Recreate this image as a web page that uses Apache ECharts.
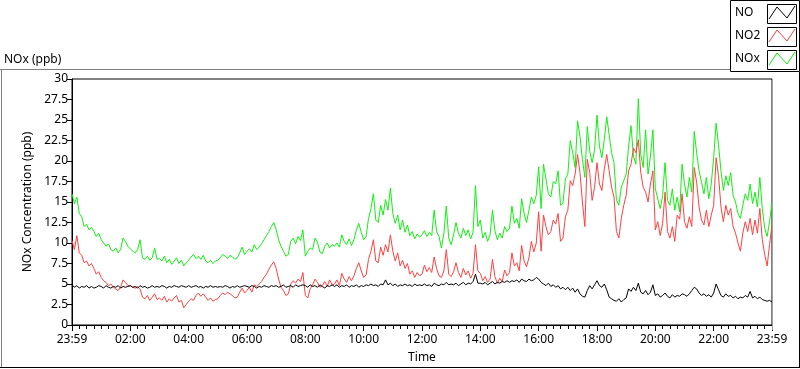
<!DOCTYPE html>
<html>
<head>
<meta charset="utf-8">
<script src="https://cdn.jsdelivr.net/npm/echarts@6/dist/echarts.min.js"></script>
<style>
html,body{margin:0;padding:0;background:#fff;}
#chart{width:800px;height:369px;}
</style>
</head>
<body>
<div id="chart"></div>
<script>
// Samples every 5 minutes from 23:59 (index 0) to 23:59 next day (index 288)
var sampleStepMinutes = 5;

var xTickLabels = ["23:59","02:00","04:00","06:00","08:00","10:00","12:00","14:00","16:00","18:00","20:00","22:00","23:59"];
var yTickLabels = ["0","2.5","5","7.5","10","12.5","15","17.5","20","22.5","25","27.5","30"];
var seriesNames = ["NO","NO2","NOx"];

var noxValues = [
16.0,14.8,15.6,13.6,13.2,12.0,12.3,11.6,11.9,11.4,10.8,11.2,
10.4,10.0,9.6,9.9,9.2,9.0,9.4,8.8,9.2,10.6,10.2,9.6,
9.3,9.0,8.8,9.2,10.4,8.2,8.0,8.4,7.9,8.2,9.4,8.0,
8.1,7.8,8.4,7.6,8.0,7.4,7.8,8.2,7.5,7.9,7.2,7.6,
7.9,8.3,8.6,8.1,8.4,8.0,8.5,7.8,7.6,7.9,7.5,7.8,
7.9,8.2,8.6,8.4,8.1,8.5,8.3,8.0,8.2,8.8,9.5,8.6,
9.0,9.3,8.9,9.8,9.2,9.5,9.9,10.4,10.9,11.4,12.0,12.5,
11.6,10.4,9.6,9.0,8.4,8.6,10.2,10.6,9.9,10.8,10.3,11.6,
8.4,9.0,9.4,9.2,10.6,10.1,8.9,8.7,9.6,10.0,9.4,9.8,
9.6,10.0,9.5,11.0,10.2,9.8,10.5,9.7,10.4,11.6,12.4,11.3,
10.4,10.8,13.0,14.2,16.0,12.8,12.5,14.6,13.4,15.3,14.0,16.7,
13.6,12.4,13.4,11.6,12.8,11.3,12.2,10.9,11.4,10.5,11.1,10.7,
11.0,11.5,10.8,11.3,10.9,14.0,11.4,10.8,9.4,11.2,14.5,10.6,
9.8,11.0,12.5,11.2,10.6,11.8,10.9,11.6,10.5,11.3,17.0,12.0,
12.8,10.6,11.3,10.2,11.0,14.0,11.5,10.4,11.2,10.6,12.0,11.4,
11.8,14.5,12.4,13.0,11.8,15.4,13.6,12.5,14.0,15.6,14.8,15.8,
19.3,14.2,19.6,17.8,16.0,15.6,17.5,17.2,18.8,14.6,14.9,17.8,
18.4,22.5,21.0,19.2,24.9,23.0,20.2,18.0,24.2,21.2,19.8,21.3,
25.6,21.8,20.4,22.6,25.4,23.2,21.0,19.8,15.2,14.6,16.8,17.6,
18.4,21.8,24.3,20.6,19.6,27.6,20.8,19.2,23.8,18.4,20.6,23.8,
16.6,15.4,14.2,15.8,19.8,15.2,14.6,16.6,14.0,15.6,13.8,19.6,
17.2,15.6,18.0,16.2,23.6,21.0,18.8,17.4,16.0,18.0,15.4,17.2,
20.4,24.6,22.0,18.8,16.4,18.2,17.0,18.6,15.8,15.0,13.6,13.0,
14.6,16.0,15.2,17.2,14.8,16.2,14.4,18.0,14.2,11.8,10.8,12.6,15.0
];

var no2Values = [
10.3,9.2,10.9,8.8,8.5,7.6,7.8,7.2,7.5,6.9,6.2,6.5,
5.8,5.4,5.2,4.8,5.0,4.6,4.4,4.2,4.6,5.5,5.2,4.8,
4.8,4.6,4.5,4.7,4.4,3.4,3.2,3.6,3.0,3.4,3.8,3.1,
3.3,3.0,3.5,2.8,3.2,2.9,3.3,3.6,2.8,3.0,2.1,2.5,
2.9,3.2,3.0,3.6,3.9,3.5,3.8,3.4,3.0,3.3,2.9,3.1,
3.2,3.6,3.9,3.7,4.0,3.8,3.6,3.3,3.4,4.0,4.5,3.9,
4.2,4.6,4.0,4.9,4.7,5.0,5.3,5.8,6.2,6.8,7.3,7.7,
6.9,5.6,4.6,4.2,3.6,3.8,5.0,5.4,5.1,5.6,5.3,6.4,
3.6,3.3,4.4,4.9,5.6,5.2,4.6,4.8,5.3,4.7,5.5,4.9,
5.0,5.5,4.8,6.3,5.6,5.2,5.9,5.4,6.0,6.9,7.6,6.6,
5.8,6.1,8.0,9.0,10.4,7.8,7.6,9.5,8.5,9.8,8.9,11.0,
9.0,7.8,8.8,7.2,7.9,6.9,7.5,6.2,6.6,5.8,6.4,6.0,
6.2,7.3,6.5,7.0,6.4,8.3,6.9,6.0,5.8,6.6,9.2,6.2,
5.9,6.5,7.6,6.4,5.8,6.9,6.1,6.6,5.7,6.3,9.8,6.6,
6.3,5.4,5.9,5.2,5.6,8.0,5.9,5.1,5.7,5.3,6.7,6.0,
6.4,8.8,7.2,7.6,6.6,9.7,7.8,7.1,8.2,10.2,8.9,10.0,
13.8,9.0,13.4,12.0,11.0,11.4,12.8,12.3,13.6,10.2,10.6,13.2,
14.0,17.6,17.0,18.4,20.8,18.6,15.0,12.0,20.2,18.6,15.2,16.8,
19.8,17.2,16.4,19.0,20.8,18.8,16.8,15.6,11.4,10.6,13.0,14.6,
15.8,18.8,19.6,21.6,21.0,22.6,18.6,16.8,16.2,15.0,17.2,18.8,
11.6,12.6,10.9,12.4,16.2,11.4,10.6,12.0,10.2,13.4,12.9,16.0,
12.6,11.8,13.2,12.0,19.2,17.4,14.4,12.8,12.2,14.0,12.0,13.4,
14.6,20.4,18.2,14.4,12.6,14.6,13.4,14.2,12.0,11.2,10.0,9.0,
11.2,12.6,11.4,13.0,11.0,12.8,11.2,14.2,10.4,8.6,7.2,9.8,12.2
];

var noValues = [
4.9,4.6,4.8,4.5,4.7,4.6,4.8,4.5,4.7,4.5,4.6,4.8,
4.7,4.5,4.8,4.6,4.5,4.7,4.6,4.8,4.5,4.7,4.6,4.7,
4.8,4.6,4.7,4.5,4.8,4.6,4.7,4.5,4.6,4.8,4.6,4.7,
4.6,4.8,4.7,4.5,4.7,4.6,4.8,4.7,4.6,4.8,4.7,4.6,
4.8,4.6,4.7,4.8,4.6,4.7,4.5,4.7,4.6,4.8,4.6,4.7,
4.6,4.7,4.6,4.8,4.7,4.5,4.7,4.6,4.8,4.6,4.7,4.8,
4.7,4.6,4.8,4.7,4.5,4.7,4.6,4.8,4.7,4.6,4.8,4.7,
4.8,4.6,4.7,4.9,4.6,4.7,4.8,4.6,4.9,4.7,4.8,4.9,
4.8,4.6,4.9,4.7,4.8,4.6,4.9,4.7,4.5,4.8,4.7,4.9,
4.7,4.9,4.6,4.8,4.7,4.9,4.6,4.8,4.7,4.9,4.6,4.8,
4.7,4.9,4.8,5.0,4.8,4.9,4.7,5.0,4.9,5.5,4.9,5.1,
4.8,5.0,4.7,4.9,4.8,5.0,4.8,4.9,4.7,5.0,4.8,4.9,
4.8,5.0,4.8,4.9,4.7,5.1,4.9,4.8,5.0,4.9,5.2,4.9,
5.0,4.9,5.1,4.8,5.0,5.2,4.9,5.1,5.0,5.3,6.2,5.1,
5.1,5.0,5.2,4.9,5.1,5.3,5.0,5.2,5.1,5.3,5.2,5.4,
5.2,5.4,5.3,5.5,5.2,5.6,5.4,5.3,5.6,5.4,5.5,5.8,
5.6,5.2,5.0,4.8,5.1,4.7,4.9,4.6,4.8,4.4,4.6,4.3,
4.6,4.2,4.5,4.0,4.4,3.8,3.5,3.4,4.2,4.8,4.4,4.9,
5.4,4.8,4.6,5.0,4.3,3.4,3.2,3.0,2.9,3.2,2.8,3.1,
3.3,4.4,4.1,4.6,4.2,5.1,4.0,3.8,4.2,3.7,4.0,4.9,
3.6,3.8,3.4,3.6,3.9,3.5,3.3,3.7,3.4,3.6,3.5,3.8,
3.7,3.5,3.8,4.2,4.6,4.4,3.9,3.6,3.8,3.5,3.7,3.4,
3.9,5.0,4.3,3.6,3.4,3.8,3.5,3.6,3.3,3.5,3.2,3.4,
3.3,3.6,3.4,4.1,3.3,3.5,3.2,3.4,3.1,3.0,2.9,3.0,2.8
];

function toPairs(values) {
  return values.map(function (v, i) { return [i * sampleStepMinutes, v]; });
}

var colors = { NO: '#000000', NO2: '#ff4040', NOx: '#10f010' };
var FONT = '"Noto Sans", "Open Sans", sans-serif';

var chart = echarts.init(document.getElementById('chart'), null, { renderer: 'canvas' });

function legendItem(name, idx) {
  var y0 = 4 + idx * 23;
  return [
    { type: 'text', left: 735, top: y0 + 3, style: { text: name, fill: '#000', font: '12px ' + FONT } },
    { type: 'rect', shape: { x: 767.5, y: y0 + 0.5, width: 29, height: 19 }, style: { fill: '#fff', stroke: '#000', lineWidth: 1 } },
    { type: 'polyline', shape: { points: [[769, y0 + 15], [777, y0 + 3], [787, y0 + 14], [795, y0 + 2]] }, style: { stroke: colors[name], lineWidth: 1, fill: null } }
  ];
}

var graphics = [
  { type: 'line', shape: { x1: 0, y1: 69.5, x2: 730, y2: 69.5 }, style: { stroke: '#808080', lineWidth: 1 } },
  { type: 'line', shape: { x1: 1.5, y1: 69, x2: 1.5, y2: 367 }, style: { stroke: '#808080', lineWidth: 1 } },
  { type: 'line', shape: { x1: 0, y1: 367.5, x2: 800, y2: 367.5 }, style: { stroke: '#000', lineWidth: 1 } },
  { type: 'line', shape: { x1: 799.5, y1: 72, x2: 799.5, y2: 368 }, style: { stroke: '#000', lineWidth: 1 } },
  { type: 'rect', shape: { x: 730.5, y: 0.5, width: 69, height: 71 }, style: { fill: '#fff', stroke: '#000', lineWidth: 1 } },
  { type: 'text', left: 4, top: 54, style: { text: 'NOx (ppb)', fill: '#000', font: '12px ' + FONT } },
  { type: 'line', shape: { x1: 772.5, y1: 79, x2: 772.5, y2: 330 }, style: { stroke: '#a0a0a0', lineWidth: 1 }, z: 100 }
];
seriesNames.forEach(function (n, i) { graphics = graphics.concat(legendItem(n, i)); });

var option = {
  animation: false,
  backgroundColor: '#ffffff',
  grid: { left: 72, right: 28, top: 79, bottom: 39.5, show: true, borderColor: '#000', borderWidth: 1, backgroundColor: 'transparent' },
  xAxis: {
    type: 'value', min: 0, max: 1440, interval: 120,
    name: 'Time', nameLocation: 'middle', nameGap: 27,
    nameTextStyle: { color: '#000', fontSize: 12, fontFamily: FONT },
    axisLine: { show: true, lineStyle: { color: '#000', width: 1 } },
    axisTick: { show: true, length: 6, lineStyle: { color: '#000', width: 1 } },
    minorTick: { show: true, splitNumber: 8, length: 4, lineStyle: { color: '#000', width: 1 } },
    axisLabel: {
      color: '#000', fontSize: 12, fontFamily: FONT, margin: 9,
      showMinLabel: true, showMaxLabel: true,
      formatter: function (v) { return xTickLabels[Math.round(v / 120)]; }
    },
    splitLine: { show: false }
  },
  yAxis: {
    type: 'value', min: 0, max: 30, interval: 2.5,
    name: 'NOx Concentration (ppb)', nameLocation: 'middle', nameGap: 30, nameRotate: 90,
    nameTextStyle: { color: '#000', fontSize: 12, fontFamily: FONT },
    axisLine: { show: true, lineStyle: { color: '#000', width: 1 } },
    axisTick: { show: true, length: 5, lineStyle: { color: '#000', width: 1 } },
    axisLabel: {
      color: '#000', fontSize: 12, fontFamily: FONT, margin: 4,
      formatter: function (v) { return yTickLabels[Math.round(v / 2.5)]; }
    },
    splitLine: { show: false }
  },
  series: [
    { name: 'NOx', type: 'line', data: toPairs(noxValues), showSymbol: false, symbol: 'none', lineStyle: { color: colors.NOx, width: 1 }, itemStyle: { color: colors.NOx }, z: 2 },
    { name: 'NO2', type: 'line', data: toPairs(no2Values), showSymbol: false, symbol: 'none', lineStyle: { color: colors.NO2, width: 1 }, itemStyle: { color: colors.NO2 }, z: 3 },
    { name: 'NO', type: 'line', data: toPairs(noValues), showSymbol: false, symbol: 'none', lineStyle: { color: colors.NO, width: 1 }, itemStyle: { color: colors.NO }, z: 4 }
  ],
  graphic: graphics
};
chart.setOption(option);
</script>
</body>
</html>
